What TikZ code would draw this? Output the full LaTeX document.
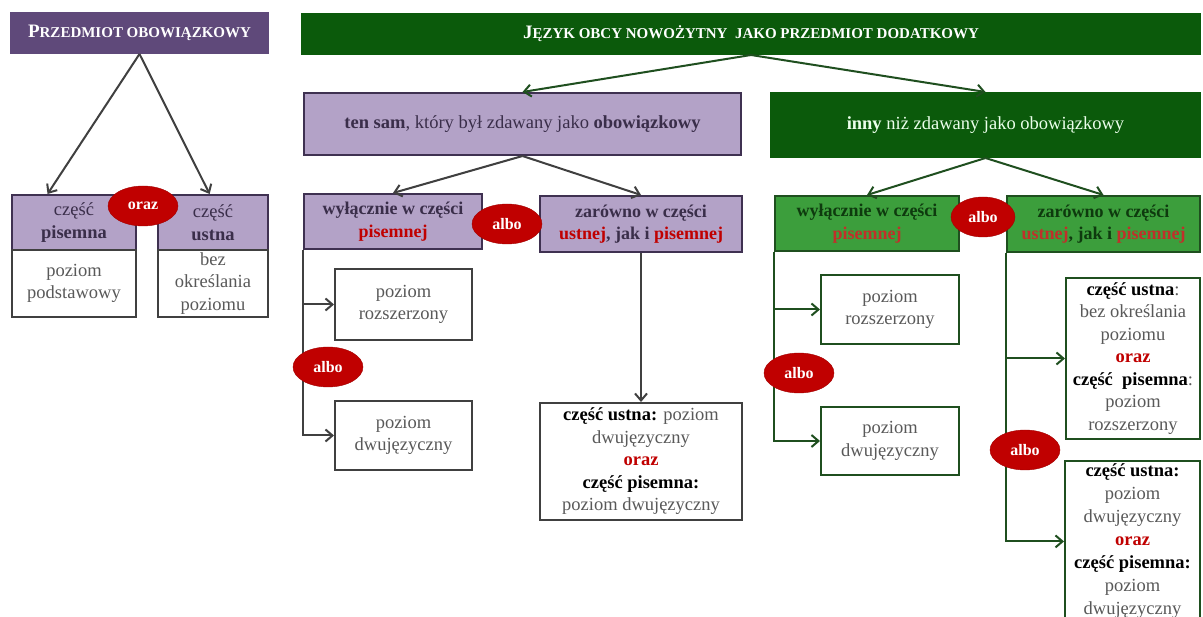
\documentclass[tikz,border=0pt]{standalone}
\usepackage{fontspec}
\setmainfont{Liberation Serif}
\usetikzlibrary{arrows.meta,shapes.geometric,calc}
\definecolor{purpDark}{HTML}{5F497A}
\definecolor{purpLight}{HTML}{B3A2C7}
\definecolor{purpBorder}{HTML}{3F3151}
\definecolor{purpText}{HTML}{3A2E4A}
\definecolor{greyBorder}{HTML}{404040}
\definecolor{greyText}{HTML}{595959}
\definecolor{greenDark}{HTML}{0B5A0B}
\definecolor{greenMid}{HTML}{3C9E3C}
\definecolor{greenBorder}{HTML}{1F4F1F}
\definecolor{greenText}{HTML}{0E3A0E}
\definecolor{redE}{HTML}{C00000}
\definecolor{redW}{HTML}{C0302A}
\newcommand\FakeSC[2]{{\fontsize{19}{20}\selectfont #1}{\fontsize{15}{20}\selectfont #2}}
\begin{document}
\begin{tikzpicture}[x=1pt,y=-1pt,
  box/.style={draw, line width=2pt, inner sep=2pt, align=center,
    font=\fontsize{18.5}{22.5}\selectfont},
  titlebox/.style={box, inner sep=0pt, text=white, font=\bfseries},
  pbox/.style={box, fill=purpLight, draw=purpBorder, text=purpText},
  wbox/.style={box, fill=white, draw=greyBorder, text=greyText},
  gbox/.style={box, fill=greenMid, draw=greenBorder, text=greenText},
  wgbox/.style={box, fill=white, draw=greenBorder, text=greyText},
  ell/.style={ellipse, fill=redE, draw=redE!85!black, text=white, inner sep=0pt,
    minimum width=70pt, minimum height=40pt, font=\fontsize{16}{18}\selectfont\bfseries},
  pconn/.style={draw=greyBorder, line width=2pt, -{Straight Barb[length=7pt,width=12pt,line width=2pt]}},
  gconn/.style={draw=greenBorder, line width=2pt, -{Straight Barb[length=7pt,width=12pt,line width=2pt]}},
]
\useasboundingbox[fill=white] (0,0) rectangle (1203,617);

% left part
\node[titlebox, fill=purpDark, draw=purpDark, minimum width=257pt, minimum height=40pt] (t1) at (139.5,33)
  {\FakeSC{P}{RZEDMIOT OBOWIĄZKOWY}};
\node[pbox, minimum width=124pt, minimum height=55pt] (pis) at (74,222.5) {część\\\textbf{pisemna}};
\node[wbox, minimum width=124pt, minimum height=67pt] (pod) at (74,283.5) {poziom\\podstawowy};
\node[pbox, minimum width=110pt, minimum height=55pt] (ust) at (213,222.5) {część\\\textbf{ustna}};
\node[wbox, minimum width=110pt, minimum height=67pt] (bez) at (213,283.5) {bez\\określania\\poziomu};

% green title
\node[titlebox, fill=greenDark, draw=greenDark, minimum width=898pt, minimum height=40pt] (t2) at (751,34)
  {\FakeSC{J}{ĘZYK OBCY NOWOŻYTNY\ \ JAKO PRZEDMIOT DODATKOWY}};

% purple branch
\node[pbox, minimum width=437pt, minimum height=62pt] (sam) at (522.5,124)
  {\textbf{ten sam}, który był zdawany jako \textbf{obowiązkowy}};
\node[pbox, minimum width=178pt, minimum height=55pt, font=\fontsize{18}{22.5}\selectfont\bfseries] (wp) at (393,221.5)
  {wyłącznie w części\\\textcolor{redE}{pisemnej}};
\node[pbox, minimum width=202pt, minimum height=56pt, font=\fontsize{18}{22.5}\selectfont\bfseries] (zp) at (641,224)
  {zarówno w części\\\textcolor{redE}{ustnej}, jak i \textcolor{redE}{pisemnej}};
\node[wbox, minimum width=137pt, minimum height=71pt] (rp) at (403.5,304.5) {poziom\\rozszerzony};
\node[wbox, minimum width=137pt, minimum height=69pt] (dp) at (403.5,435.5) {poziom\\dwujęzyczny};
\node[wbox, minimum width=202pt, minimum height=117pt] (cp) at (641,461.5)
  {\textcolor{black}{\textbf{część ustna:}} poziom\\dwujęzyczny\\\textcolor{redE}{\textbf{oraz}}\\\textcolor{black}{\textbf{część pisemna:}}\\poziom dwujęzyczny};

% green branch
\node[box, fill=greenDark, draw=greenDark, text=green!8!white, minimum width=429pt, minimum height=64pt] (inny) at (985.5,125)
  {\textbf{inny} niż zdawany jako obowiązkowy};
\node[gbox, minimum width=184pt, minimum height=55pt, font=\fontsize{18}{22.5}\selectfont\bfseries] (wg) at (867,223.5)
  {wyłącznie w części\\\textcolor{redW}{pisemnej}};
\node[gbox, minimum width=193pt, minimum height=56pt, font=\fontsize{18}{22.5}\selectfont\bfseries] (zg) at (1103.5,224)
  {zarówno w części\\\textcolor{redW}{ustnej}, jak i \textcolor{redW}{pisemnej}};
\node[wgbox, minimum width=138pt, minimum height=69pt] (rg) at (890,309.5) {poziom\\rozszerzony};
\node[wgbox, minimum width=138pt, minimum height=68pt] (dg) at (890,441) {poziom\\dwujęzyczny};
\node[wgbox, minimum width=134pt, minimum height=161pt] (cg1) at (1133,358.5)
  {\textcolor{black}{\textbf{część ustna}}:\\bez określania\\poziomu\\\textcolor{redE}{\textbf{oraz}}\\\textcolor{black}{\textbf{część\ \ pisemna}}:\\poziom\\rozszerzony};
\node[wgbox, anchor=north, minimum width=135pt, inner sep=3pt, font=\fontsize{18.5}{23}\selectfont] (cg2) at (1132.5,460)
  {\textcolor{black}{\textbf{część ustna:}}\\poziom\\dwujęzyczny\\\textcolor{redE}{\textbf{oraz}}\\\textcolor{black}{\textbf{część pisemna:}}\\poziom\\dwujęzyczny};

% connectors
\draw[pconn] (t1.south) -- ($(pis.north west)!0.29!(pis.north east)$);
\draw[pconn] (t1.south) -- ($(ust.north west)!0.47!(ust.north east)$);
\draw[gconn] (t2.south) -- (sam.north);
\draw[gconn] (t2.south) -- (inny.north);
\draw[pconn] (sam.south) -- (wp.north);
\draw[pconn] (sam.south) -- (zp.north);
\draw[gconn] (inny.south) -- (wg.north);
\draw[gconn] (inny.south) -- (zg.north);
\draw[pconn] (wp.south west) |- (rp.west);
\draw[pconn] (wp.south west) |- (dp.west);
\draw[pconn] (zp.south) -- (cp.north);
\draw[gconn] (wg.south west) |- (rg.west);
\draw[gconn] (wg.south west) |- (dg.west);
\draw[gconn] (zg.south west) |- (cg1.west);
\draw[gconn] (zg.south west) |- (cg2.west);

% ellipses
\node[ell] (oraz) at (143,206) {oraz};
\node[ell] (albo1) at (507,224) {albo};
\node[ell] (albo2) at (328,367) {albo};
\node[ell, minimum width=64pt] (albo3) at (983,217) {albo};
\node[ell] (albo4) at (799,373) {albo};
\node[ell] (albo5) at (1025,450) {albo};
\end{tikzpicture}
\end{document}
